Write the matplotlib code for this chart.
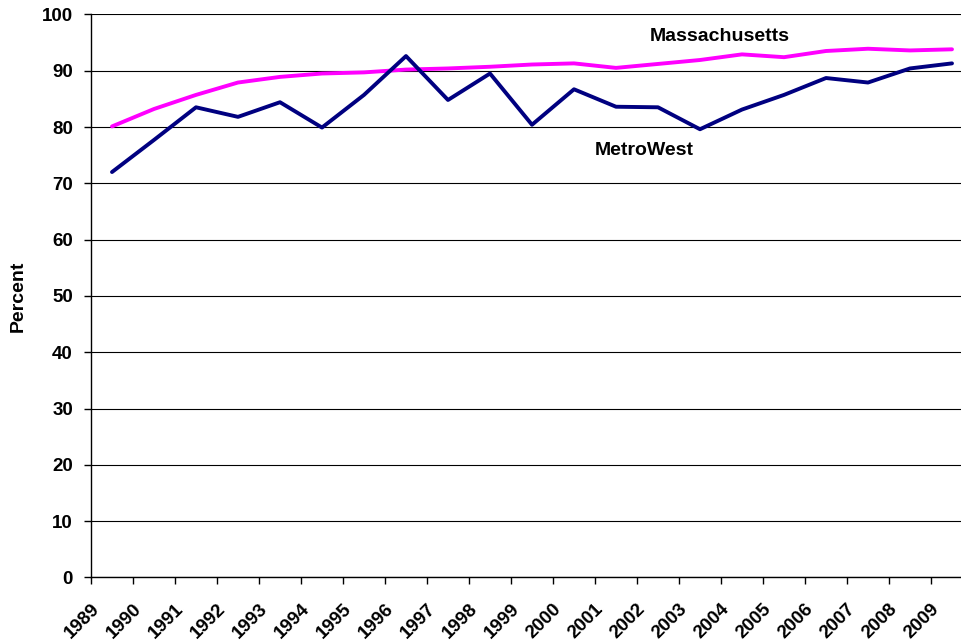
import matplotlib
matplotlib.use("Agg")
import matplotlib.pyplot as plt
import matplotlib.transforms as mtrans

plt.rcParams["font.family"] = ["Liberation Sans", "DejaVu Sans"]
plt.rcParams["font.weight"] = "bold"

# podatki
years = [str(y) for y in range(1989, 2010)]
metrowest = [72.0, 77.7, 83.5, 81.8, 84.4, 79.9, 85.7, 92.6, 84.8, 89.5, 80.4,
             86.7, 83.6, 83.5, 79.6, 83.1, 85.7, 88.7, 87.9, 90.4, 91.3]
massachusetts = [80.1, 83.2, 85.7, 87.9, 88.9, 89.5, 89.7, 90.2, 90.4, 90.7, 91.1,
                 91.3, 90.5, 91.2, 91.9, 92.9, 92.4, 93.5, 93.9, 93.6, 93.8]
yticks = list(range(0, 101, 10))

fig = plt.figure(figsize=(9.61, 6.43), dpi=100)
ax = fig.add_axes([91 / 961, 65.6 / 643, 882 / 961, 563 / 643])

x = list(range(len(years)))
ax.plot(x, massachusetts, color="#FF00FF", linewidth=2.8, solid_capstyle="round", zorder=3)
ax.plot(x, metrowest, color="#000080", linewidth=2.8, solid_capstyle="round", zorder=3)

ax.set_xlim(-0.5, len(years) - 0.5)
ax.set_ylim(0, 100)

# y os
ax.set_yticks(yticks)
ax.set_yticklabels([str(v) for v in yticks], fontsize=13.5, fontweight="bold")
ax.tick_params(axis="y", direction="out", length=5, width=1, color="#000000", pad=8)
ax.grid(axis="y", color="#000000", linewidth=0.8)
ax.set_axisbelow(True)

# x os: crtice na mejah, oznake na sredini
ax.set_xticks([i - 0.5 for i in range(len(years) + 1)])
ax.set_xticklabels([])
ax.tick_params(axis="x", which="major", direction="out", length=5, width=1, color="#000000")
ax.set_xticks(x, minor=True)
ax.set_xticklabels(years, minor=True, fontsize=13.5, fontweight="bold",
                   rotation=45, ha="right", va="center", rotation_mode="anchor")
ax.tick_params(axis="x", which="minor", length=0, pad=21)
offset = mtrans.ScaledTranslation(-15 / 100, 0, fig.dpi_scale_trans)
for lbl in ax.get_xticklabels(minor=True):
    lbl.set_transform(lbl.get_transform() + offset)

for side in ["top", "right"]:
    ax.spines[side].set_visible(False)
ax.spines["left"].set_linewidth(1)
ax.spines["bottom"].set_linewidth(1)

ax.set_ylabel("Percent", fontsize=14, fontweight="bold")
ax.yaxis.set_label_coords(-0.073, 0.5)

ax.text(12.8, 96.0, "Massachusetts", fontsize=14, fontweight="bold", ha="left", va="center")
ax.text(11.5, 75.9, "MetroWest", fontsize=14, fontweight="bold", ha="left", va="center")

fig.savefig("out.png", dpi=100)
